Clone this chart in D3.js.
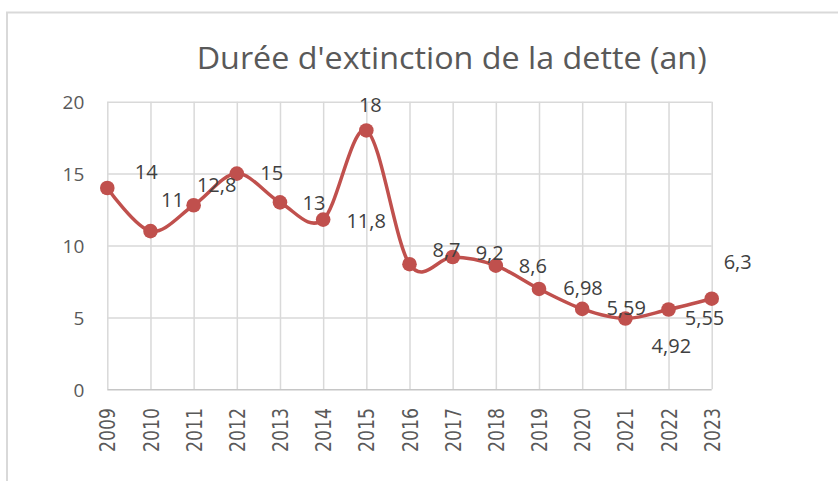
<!DOCTYPE html>
<html>
<head>
<meta charset="utf-8">
<script src="https://cdn.jsdelivr.net/npm/d3@7"></script>
<style>
  html, body { margin: 0; padding: 0; background: #ffffff; }
  svg { display: block; }
</style>
</head>
<body>
<svg id="chart" width="838" height="481"></svg>
<script>
// Years on the category axis
const years = ["2009", "2010", "2011", "2012", "2013", "2014", "2015", "2016",
               "2017", "2018", "2019", "2020", "2021", "2022", "2023"];
// Debt extinction duration, in years
const durations = [14, 11, 12.8, 15, 13, 11.8, 18, 8.7, 9.2, 8.6, 6.98, 5.59, 4.92, 5.55, 6.3];
// Value axis ticks
const yTicks = [0, 5, 10, 15, 20];
// Where each value label sits relative to its marker (px)
const labelOffsets = [[39, -16], [22, -31], [23, -20], [35, -1], [34, 0], [43, 1], [4, -26],
                      [37, -14], [37, -4], [37, 0], [44, -1], [44, -1], [46, 27], [36, 8], [26, -37]];

const title = "Durée d'extinction de la dette (an)";
const RED = "#C0504D";

const svg = d3.select("#chart");
const margin = { left: 107.3, top: 101.7, right: 838 - 711.7, bottom: 481 - 389.3 };
const w = 838 - margin.left - margin.right;
const h = 481 - margin.top - margin.bottom;

// chart area frame
svg.append("path")
  .attr("d", "M7,481 V12.5 H838")
  .attr("fill", "none")
  .attr("stroke", "#d9d9d9")
  .attr("stroke-width", 2);

// title
svg.append("text")
  .attr("x", 196.7)
  .attr("y", 69.3)
  .attr("font-family", "'Open Sans', sans-serif")
  .attr("font-size", 31.5)
  .attr("fill", "#595959")
  .attr("textLength", 510)
  .attr("lengthAdjust", "spacingAndGlyphs")
  .text(title);

const g = svg.append("g").attr("transform", `translate(${margin.left},${margin.top})`);

const x = d3.scalePoint().domain(years).range([0, w]);
const y = d3.scaleLinear().domain([0, 20]).range([h, 0]);

// vertical gridlines + year labels
const xAxis = g.append("g")
  .attr("transform", `translate(0,${h})`)
  .call(d3.axisBottom(x).tickSize(-h).tickSizeOuter(0).tickPadding(0));
xAxis.select(".domain").remove();
xAxis.selectAll(".tick line").attr("stroke", "#d9d9d9").attr("stroke-width", 1.5);
xAxis.selectAll(".tick text")
  .attr("transform", "rotate(-90)")
  .attr("x", -18.7)
  .attr("y", 0)
  .attr("dy", "0.36em")
  .attr("text-anchor", "end")
  .attr("font-family", "'DejaVu Sans', sans-serif")
  .attr("font-size", 21)
  .attr("fill", "#595959")
  .attr("textLength", 44)
  .attr("lengthAdjust", "spacingAndGlyphs");

// horizontal gridlines + value labels
const yAxis = g.append("g")
  .call(d3.axisLeft(y).tickValues(yTicks).tickSize(-w).tickPadding(23).tickFormat(d => String(d)));
yAxis.select(".domain").remove();
yAxis.selectAll(".tick line")
  .attr("stroke", d => d === 0 ? "#c6c6c6" : "#d9d9d9")
  .attr("stroke-width", 1.5);
yAxis.selectAll(".tick text")
  .attr("font-family", "'Open Sans', sans-serif")
  .attr("font-size", 19)
  .attr("fill", "#595959")
  .attr("dy", "0.36em");

// smoothed series line
const pts = years.map((yr, i) => ({ yr, v: durations[i] }));
const line = d3.line()
  .x(d => x(d.yr))
  .y(d => y(d.v))
  .curve(d3.curveCardinal.tension(0));

g.append("path")
  .datum(pts)
  .attr("d", line)
  .attr("fill", "none")
  .attr("stroke", RED)
  .attr("stroke-width", 3.5)
  .attr("stroke-linecap", "round");

// markers
g.selectAll("circle.pt")
  .data(pts)
  .join("circle")
  .attr("class", "pt")
  .attr("cx", d => x(d.yr))
  .attr("cy", d => y(d.v))
  .attr("r", 7.3)
  .attr("fill", RED);

// value labels
g.selectAll("text.lbl")
  .data(pts)
  .join("text")
  .attr("class", "lbl")
  .attr("x", (d, i) => x(d.yr) + labelOffsets[i][0])
  .attr("y", (d, i) => y(d.v) + labelOffsets[i][1])
  .attr("dy", "0.36em")
  .attr("text-anchor", "middle")
  .attr("font-family", "'Open Sans', sans-serif")
  .attr("font-size", 20)
  .attr("fill", "#404040")
  .text(d => String(d.v).replace(".", ","));
</script>
</body>
</html>
